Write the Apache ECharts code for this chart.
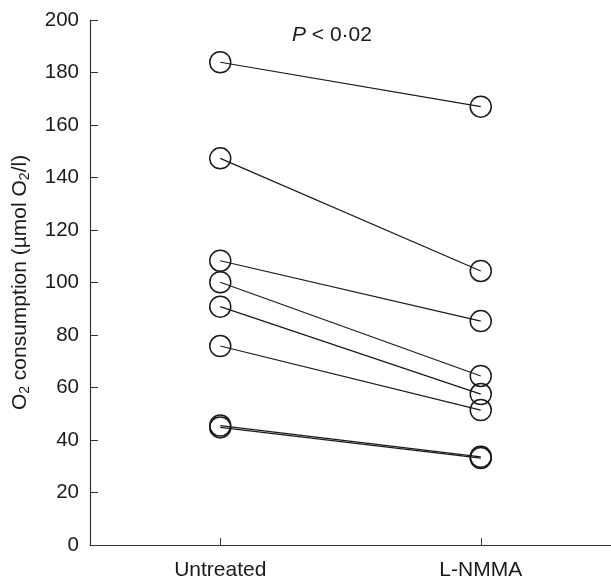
<!DOCTYPE html>
<html>
<head>
<meta charset="utf-8">
<script src="https://cdn.jsdelivr.net/npm/echarts@6/dist/echarts.min.js"></script>
<style>html,body{margin:0;padding:0;background:#fff}#c{width:611px;height:583px}</style>
</head>
<body>
<div id="c"></div>
<script>
var categories = ['Untreated', 'L-NMMA'];
var untreated = [183.9, 147.3, 108.3, 100.1, 90.8, 75.8, 45.5, 44.8];
var lnmma     = [167.0, 104.4, 85.3, 64.4, 57.5, 51.4, 33.6, 33.1];
var yTicks = [0, 20, 40, 60, 80, 100, 120, 140, 160, 180, 200];
var annotation = 'P < 0·02';

var FONT = 'Liberation Sans, Arial, sans-serif';
var chart = echarts.init(document.getElementById('c'), null, {renderer: 'canvas'});
var series = untreated.map(function (u, i) {
  return {
    type: 'line',
    data: [u, lnmma[i]],
    symbol: 'circle',
    symbolSize: 21,
    showSymbol: true,
    lineStyle: {color: '#1a1a1a', width: 1.2},
    itemStyle: {color: 'rgba(0,0,0,0)', borderColor: '#1a1a1a', borderWidth: 1.5},
    emphasis: {disabled: true},
    animation: false,
    z: 2
  };
});

chart.setOption({
  animation: false,
  grid: {left: 90, right: 0, top: 20, bottom: 38, containLabel: false},
  xAxis: {
    type: 'category',
    data: categories,
    boundaryGap: true,
    axisLine: {lineStyle: {color: '#333', width: 1.2}},
    axisTick: {show: true, alignWithLabel: true, inside: true, length: 7, lineStyle: {color: '#333'}},
    axisLabel: {color: '#1a1a1a', fontSize: 21, fontFamily: FONT, margin: 15},
    splitLine: {show: false}
  },
  yAxis: {
    type: 'value',
    min: yTicks[0],
    max: yTicks[yTicks.length - 1],
    interval: 20,
    axisLine: {show: true, lineStyle: {color: '#333', width: 1.2}},
    axisTick: {show: true, inside: true, length: 8, lineStyle: {color: '#333'}},
    axisLabel: {color: '#1a1a1a', fontSize: 20.5, fontFamily: FONT, margin: 11},
    splitLine: {show: false},
    name: '{n|O}{s|2}{n| consumption (µmol O}{s|2}{n|/l)}',
    nameLocation: 'middle',
    nameGap: 58,
    nameRotate: 90,
    nameTextStyle: {
      rich: {
        n: {fontSize: 21, color: '#1a1a1a', fontFamily: FONT},
        s: {fontSize: 14, color: '#1a1a1a', fontFamily: FONT, verticalAlign: 'bottom', padding: [10, 0, 0, 0]}
      }
    }
  },
  graphic: [{
    type: 'text',
    left: 292,
    top: 25,
    style: {
      text: '{i|P}{t| < 0·02}',
      rich: {
        i: {fontSize: 21, fontStyle: 'italic', fontFamily: FONT, fill: '#1a1a1a'},
        t: {fontSize: 21, fontFamily: FONT, fill: '#1a1a1a'}
      }
    }
  }],
  series: series
});
</script>
</body>
</html>
